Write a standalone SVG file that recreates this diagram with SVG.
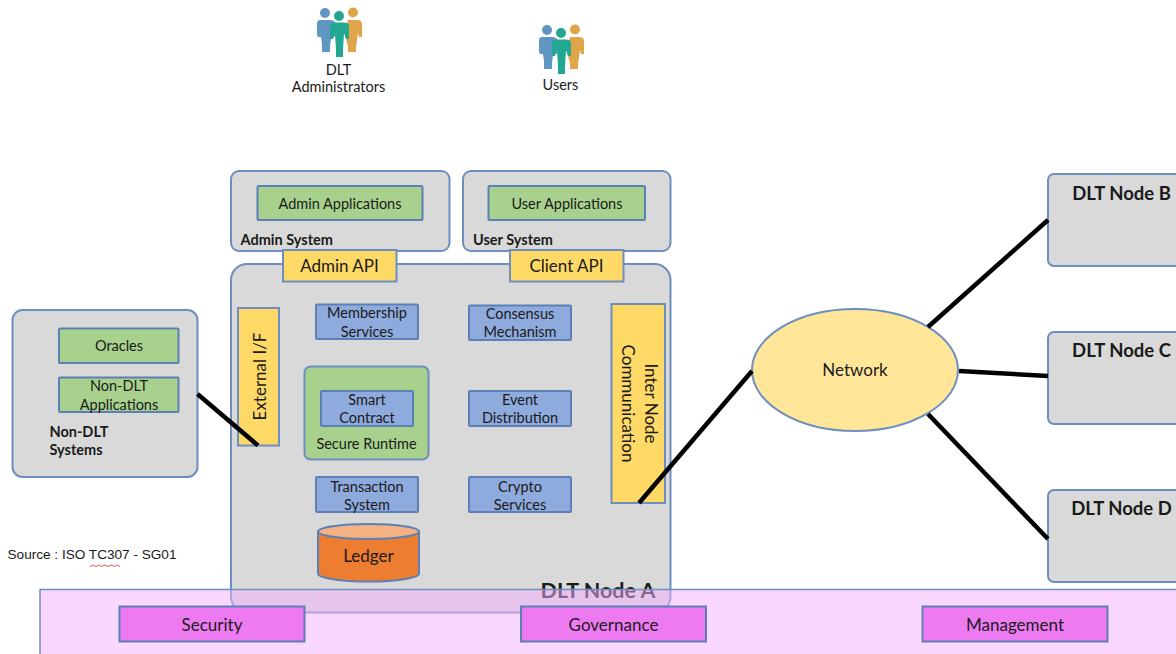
<svg xmlns="http://www.w3.org/2000/svg" width="1176" height="654" viewBox="0 0 1176 654">
<style>
text{font-family:"Lato","Carlito","Liberation Sans",sans-serif;fill:#1a1a1a;text-anchor:middle}
.sys{fill:#d9d9d9;stroke:#6d8ebf;stroke-width:2}
.grn{fill:#a9d18e;stroke:#5b80b5;stroke-width:2}
.blu{fill:#8faadc;stroke:#5b80b5;stroke-width:2}
.yel{fill:#ffd966;stroke:#6d8ebf;stroke-width:2}
.mag{fill:#ee7af2;stroke:#5b80b5;stroke-width:2}
.t14{font-size:14.500px}
.t16{font-size:17px}
.nd{font-size:18.500px;font-weight:700}
.b{font-weight:700}
.l{text-anchor:start}
.con line{stroke:#000;stroke-width:4.500;stroke-linecap:butt}
</style>
<defs>
<filter id="soft" x="-10%" y="-10%" width="120%" height="120%"><feGaussianBlur stdDeviation="0.600"/></filter>
<g id="people" filter="url(#soft)">
<g fill="#e0a548"><circle cx="36" cy="4.500" r="5"/><path d="M31 12h9q5 0 5 4v13h-3l-1-4-2 14v5h-8v-6l-4-14z"/></g>
<g fill="#5f96c2"><circle cx="8" cy="5" r="5"/><path d="M3 12h10q5 0 6 4v12l-5 2-1 8v6H5v-8L4 29H1l-1-2V16q0-4 3-4z"/></g>
<g fill="#23a792"><circle cx="22" cy="8" r="5"/><path d="M17 14.500h10q5 0 5 4V31h-3l-2-6-1 17v7h-7v-7l-1-17-2 6h-3V18.500q0-4 4-4z"/></g>
</g>
</defs>
<g id="dlt-admins"><use href="#people" x="317" y="8"/><text class="t14" x="338.500" y="75">DLT</text><text class="t14" x="338.500" y="92">Administrators</text></g>
<g id="users"><use href="#people" x="539" y="25"/><text class="t14" x="560.500" y="90">Users</text></g>
<g id="admin-system"><rect class="sys" x="231" y="171" width="218.500" height="80" rx="8"/><rect class="grn" x="257.500" y="186" width="165" height="34" rx="1"/><text class="t14" x="340" y="209">Admin Applications</text><text class="t14 b l" x="240.500" y="244.500">Admin System</text></g>
<g id="user-system"><rect class="sys" x="463" y="171" width="207.500" height="80" rx="8"/><rect class="grn" x="488.500" y="186" width="156.500" height="34" rx="1"/><text class="t14" x="567" y="209">User Applications</text><text class="t14 b l" x="473" y="244.500">User System</text></g>
<g id="dlt-node-a"><rect class="sys" x="231" y="264" width="439.500" height="348.500" rx="16"/><text class="b" style="font-size:21.500px" x="598" y="598">DLT Node A</text></g>
<g id="admin-api"><rect class="yel" x="283" y="250" width="113.500" height="31.500"/><text class="t16" x="339.500" y="272">Admin API</text></g>
<g id="client-api"><rect class="yel" x="510" y="250" width="113.500" height="31.500"/><text class="t16" x="566.500" y="272">Client API</text></g>
<g id="external-if"><rect class="yel" x="238" y="308" width="41" height="137.500"/><text class="t16" transform="translate(266 376.500) rotate(-90)">External I/F</text></g>
<g id="inter-node"><rect class="yel" x="611.500" y="304" width="53.500" height="199"/><text class="t16" transform="translate(644.500 403.500) rotate(90)">Inter Node</text><text class="t16" transform="translate(622 403.500) rotate(90)">Communication</text></g>
<g id="membership"><rect class="blu" x="316" y="304.500" width="102" height="34.500" rx="1"/><text class="t14" x="367" y="318">Membership</text><text class="t14" x="367" y="336.500">Services</text></g>
<g id="consensus"><rect class="blu" x="469" y="305.500" width="102" height="34.500" rx="1"/><text class="t14" x="520" y="319">Consensus</text><text class="t14" x="520" y="337">Mechanism</text></g>
<g id="secure-runtime"><rect x="304.500" y="366.500" width="124" height="93" rx="6" fill="#a9d18e" stroke="#6d8ebf" stroke-width="2"/><text class="t14" x="366.500" y="448.500">Secure Runtime</text></g>
<g id="smart-contract"><rect class="blu" x="321" y="391" width="92" height="35" rx="1"/><text class="t14" x="367" y="405">Smart</text><text class="t14" x="367" y="423">Contract</text></g>
<g id="event-distribution"><rect class="blu" x="469" y="391" width="102" height="35" rx="1"/><text class="t14" x="520" y="405">Event</text><text class="t14" x="520" y="423">Distribution</text></g>
<g id="transaction"><rect class="blu" x="316" y="477" width="102" height="35" rx="1"/><text class="t14" x="367" y="492">Transaction</text><text class="t14" x="367" y="510">System</text></g>
<g id="crypto"><rect class="blu" x="469" y="477" width="102" height="35" rx="1"/><text class="t14" x="520" y="492">Crypto</text><text class="t14" x="520" y="510">Services</text></g>
<g id="ledger"><path d="M318 531.500v42c0 4.500 22 8 50.500 8s50.500-3.500 50.500-8v-42z" fill="#ed7d31" stroke="#5b80b5" stroke-width="2"/><ellipse cx="368.500" cy="531.500" rx="50.500" ry="7.500" fill="#f4b183" stroke="#5b80b5" stroke-width="2"/><text class="t16" x="368.500" y="562">Ledger</text></g>
<g id="non-dlt-systems"><rect class="sys" x="12.500" y="310" width="185" height="167" rx="10"/><rect class="grn" x="59" y="328.500" width="119.500" height="34.500" rx="1"/><text class="t14" x="119" y="351">Oracles</text><rect class="grn" x="59" y="377.500" width="119.500" height="34.500" rx="1"/><text class="t14" x="119" y="391">Non-DLT</text><text class="t14" x="119" y="410">Applications</text><text class="t14 b l" x="49.500" y="437">Non-DLT</text><text class="t14 b l" x="49.500" y="455">Systems</text></g>
<g id="source"><text class="l" x="7.500" y="559" style="font-family:'Liberation Sans',sans-serif;font-size:13.600px">Source : ISO TC307 - SG01</text><path d="M90 566.500l3-1.500 3 1.500 3-1.500 3 1.500 3-1.500 3 1.500 3-1.500 3 1.500 3-1.500 3 1.500" fill="none" stroke="#e05a5a"/></g>
<g id="network"><ellipse cx="855" cy="370" rx="103" ry="61" fill="#ffe699" stroke="#6d8ebf" stroke-width="2"/><text class="t16" x="855" y="376">Network</text></g>
<g id="node-b"><rect class="sys" x="1048" y="174" width="150" height="92" rx="6"/><text class="nd" x="1121.500" y="199.500">DLT Node B</text></g>
<g id="node-c"><rect class="sys" x="1048" y="332" width="150" height="92" rx="6"/><text class="nd" x="1121.500" y="356.500">DLT Node C</text></g>
<g id="node-d"><rect class="sys" x="1048" y="490" width="150" height="92" rx="6"/><text class="nd" x="1121.500" y="514.500">DLT Node D</text></g>
<g id="connectors" class="con">
<line x1="197.500" y1="394" x2="258" y2="445.500"/>
<line x1="639" y1="503" x2="752" y2="371"/>
<line x1="928" y1="327" x2="1048" y2="220"/>
<line x1="959" y1="371" x2="1048" y2="376"/>
<line x1="928" y1="414" x2="1048" y2="539"/>
</g>
<g id="pink-band"><rect x="40" y="589.500" width="1150" height="80" fill="#f5affd" fill-opacity=".5" stroke="#6d8ebf" stroke-width="1.500"/></g>
<g id="security"><rect class="mag" x="119.500" y="606.500" width="185" height="35"/><text class="t16" x="212" y="631">Security</text></g>
<g id="governance"><rect class="mag" x="521" y="606.500" width="185" height="35"/><text class="t16" x="613.500" y="631">Governance</text></g>
<g id="management"><rect class="mag" x="922.500" y="606.500" width="185" height="35"/><text class="t16" x="1015" y="631">Management</text></g>
</svg>
